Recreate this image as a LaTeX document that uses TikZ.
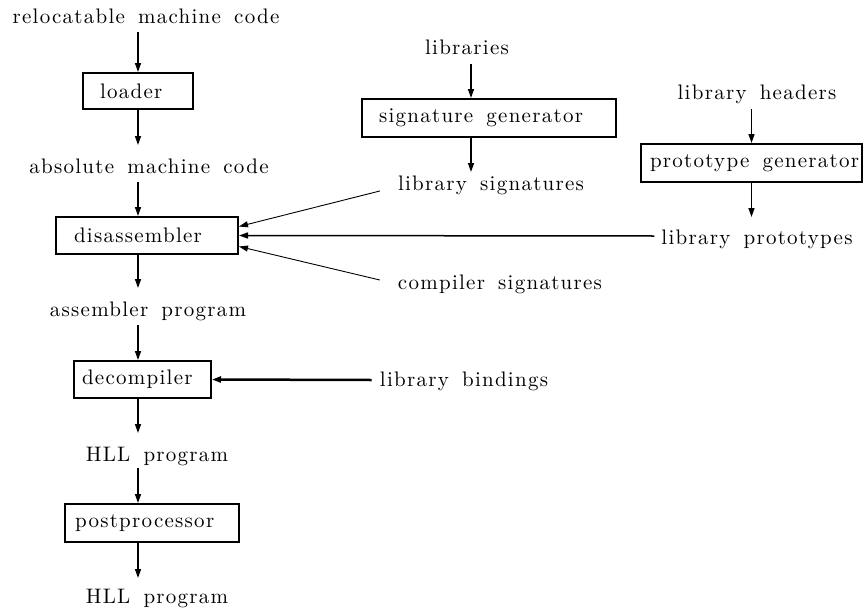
\documentclass[tikz,border=0pt]{standalone}
\usepackage{fontspec}
\setmainfont{lmroman10-regular.otf}[LetterSpace=6, WordSpace=1.6]
\usetikzlibrary{arrows.meta}
\newcommand{\boxtext}[3]{\hbox to #1pt{\hskip#2pt #3\hss}}
\begin{document}
\begin{tikzpicture}[x=1pt,y=-1pt,
  every node/.style={font=\fontsize{21}{25}\selectfont, inner sep=0pt},
  lbl/.style={anchor=base},
  box/.style={draw, line width=2pt, inner sep=0pt},
  arr/.style={-{Triangle[length=9pt,width=6pt]}, line width=1.5pt},
  thinarr/.style={-{Triangle[length=9pt,width=6pt]}, line width=0.9pt},
  thickarr/.style={-{Triangle[length=9pt,width=6pt]}, line width=2.5pt}]
\useasboundingbox (0,0) rectangle (866,610);

% boxes
\node[box, minimum height=36pt] (loader)   at (138,91)      {\boxtext{110}{17}{loader}};
\node[box, minimum height=37pt] (dis)      at (147,235.5)   {\boxtext{182}{18}{disassembler}};
\node[box, minimum height=37pt] (dec)      at (142.5,379.5) {\boxtext{137}{8}{decompiler}};
\node[box, minimum height=38pt] (post)     at (152,523)     {\boxtext{174}{10}{postprocessor}};
\node[box, minimum height=38pt] (siggen)   at (489,118)     {\boxtext{254}{17}{signature generator}};
\node[box, minimum height=38pt] (protogen) at (751.5,163)   {\boxtext{221}{9}{prototype generator}};

% labels
\node[lbl] (reloc)    at (146,24)  {relocatable machine code};
\node[lbl] (abs)      at (149,173) {absolute machine code};
\node[lbl] (asm)      at (148,316) {assembler program};
\node[lbl] (hllA)     at (157,461) {HLL program};
\node[lbl] (hllB)     at (157,603) {HLL program};
\node[lbl] (libs)     at (467,54)  {libraries};
\node[lbl] (libsig)   at (491,190) {library signatures};
\node[lbl] (libhdr)   at (757,99)  {library headers};
\node[lbl] (libproto) at (757,244) {library prototypes};
\node[lbl] (compsig)  at (500,289) {compiler signatures};
\node[lbl] (libbind)  at (464,386) {library bindings};

% left column
\draw[arr] ([yshift=-8pt]reloc.base -| loader.north) -- (loader.north);
\draw[arr] (loader.south) -- ([yshift=28pt]abs.base -| loader.south);
\draw[arr] ([yshift=-9pt]abs.base -| loader.south) -- (dis.north -| loader.south);
\draw[arr] (dis.south -| loader.south) -- ([yshift=28pt]asm.base -| loader.south);
\draw[arr] ([yshift=-9pt]asm.base -| loader.south) -- (dec.north -| loader.south);
\draw[arr] (dec.south -| loader.south) -- ([yshift=28pt]hllA.base -| loader.south);
\draw[arr] ([yshift=-7pt]hllA.base -| loader.south) -- (post.north -| loader.south);
\draw[arr] (post.south -| loader.south) -- ([yshift=25pt]hllB.base -| loader.south);

% signature generator column
\coordinate (sx) at ([xshift=-18pt]siggen.north);
\draw[arr] ([yshift=-10pt]libs.base -| sx) -- (siggen.north -| sx);
\draw[arr] (siggen.south -| sx) -- ([yshift=18pt]libsig.base -| sx);

% prototype generator column
\draw[arr] ([yshift=-10pt]libhdr.base -| protogen.north) -- (protogen.north);
\draw[arr] (protogen.south) -- ([yshift=27pt]libproto.base -| protogen.south);

% into disassembler
\draw[thinarr] ([xshift=-18pt,yshift=-1pt]libsig.base west) -- ([yshift=9pt]dis.east);
\draw[arr] ([xshift=-7pt,yshift=8pt]libproto.base west) -- (dis.east);
\draw[thinarr] ([xshift=-18pt,yshift=9pt]compsig.base west) -- ([yshift=-11pt]dis.east);

% into decompiler
\draw[thickarr] ([xshift=-8pt,yshift=6pt]libbind.base west) -- (dec.east);
\end{tikzpicture}
\end{document}
